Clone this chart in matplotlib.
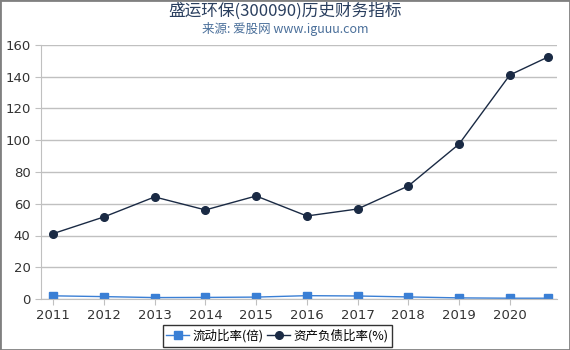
import matplotlib.pyplot as plt
from matplotlib.patches import Rectangle

plt.rcParams['font.family'] = ['Noto Sans CJK SC', 'DejaVu Sans']

# data
years = [2011, 2012, 2013, 2014, 2015, 2016, 2017, 2018, 2019, 2020, 2020.75]
tick_years = [2011, 2012, 2013, 2014, 2015, 2016, 2017, 2018, 2019, 2020]
current_ratio = [2.0, 1.5, 0.9, 1.0, 1.2, 2.1, 1.9, 1.3, 0.7, 0.5, 0.5]
debt_ratio = [41.2, 51.7, 64.3, 56.1, 64.9, 52.3, 56.7, 71.2, 97.6, 141.1, 152.4]

fig = plt.figure(figsize=(5.7, 3.5), dpi=100)
ax = fig.add_axes([41 / 570, 1 - 299 / 350, 516 / 570, 254 / 350])

ax.plot(years, current_ratio, color='#3a7fd5', marker='s', markersize=5.5,
        linewidth=1, label='流动比率(倍)')
ax.plot(years, debt_ratio, color='#1a2a44', marker='o', markersize=5.5,
        linewidth=1, label='资产负债比率(%)')

ax.set_xlim(2010.76, 2020.93)
ax.set_ylim(0, 160)
ax.set_yticks(range(0, 161, 20))
ax.set_xticks(tick_years)
ax.set_xticklabels([str(y) for y in tick_years])
ax.grid(axis='y', color='#c0c0c0', linewidth=1)
ax.set_axisbelow(True)
for s in ['top', 'right']:
    ax.spines[s].set_visible(False)
ax.spines['left'].set_color('#c0c0c0')
ax.spines['bottom'].set_color('#c0c0c0')
ax.tick_params(axis='both', colors='#333333', labelsize=9.5, length=4)
ax.tick_params(axis='x', color='#c0c0c0')
ax.tick_params(axis='y', color='#c0c0c0')
for lbl in ax.get_xticklabels() + ax.get_yticklabels():
    lbl.set_fontfamily('DejaVu Sans')

fig.text(0.5, 0.968, '盛运环保(300090)历史财务指标', ha='center', va='center',
         fontsize=12, color='#2a3f5f')
fig.text(0.5, 0.918, '来源: 爱股网 www.iguuu.com', ha='center', va='center',
         fontsize=9, color='#4a6f9a')

leg = fig.legend(loc='center', bbox_to_anchor=(0.487, 0.04), ncol=2,
                 frameon=True, fontsize=9, handlelength=1.8,
                 handletextpad=0.3, columnspacing=0.3, borderpad=0.3,
                 fancybox=False)
leg.get_frame().set_edgecolor('black')
leg.get_frame().set_linewidth(1)

fig.patches.append(Rectangle((0, 0), 1, 1, transform=fig.transFigure,
                             fill=False, edgecolor='#808080', linewidth=2))

fig.savefig('out.png', dpi=100)
